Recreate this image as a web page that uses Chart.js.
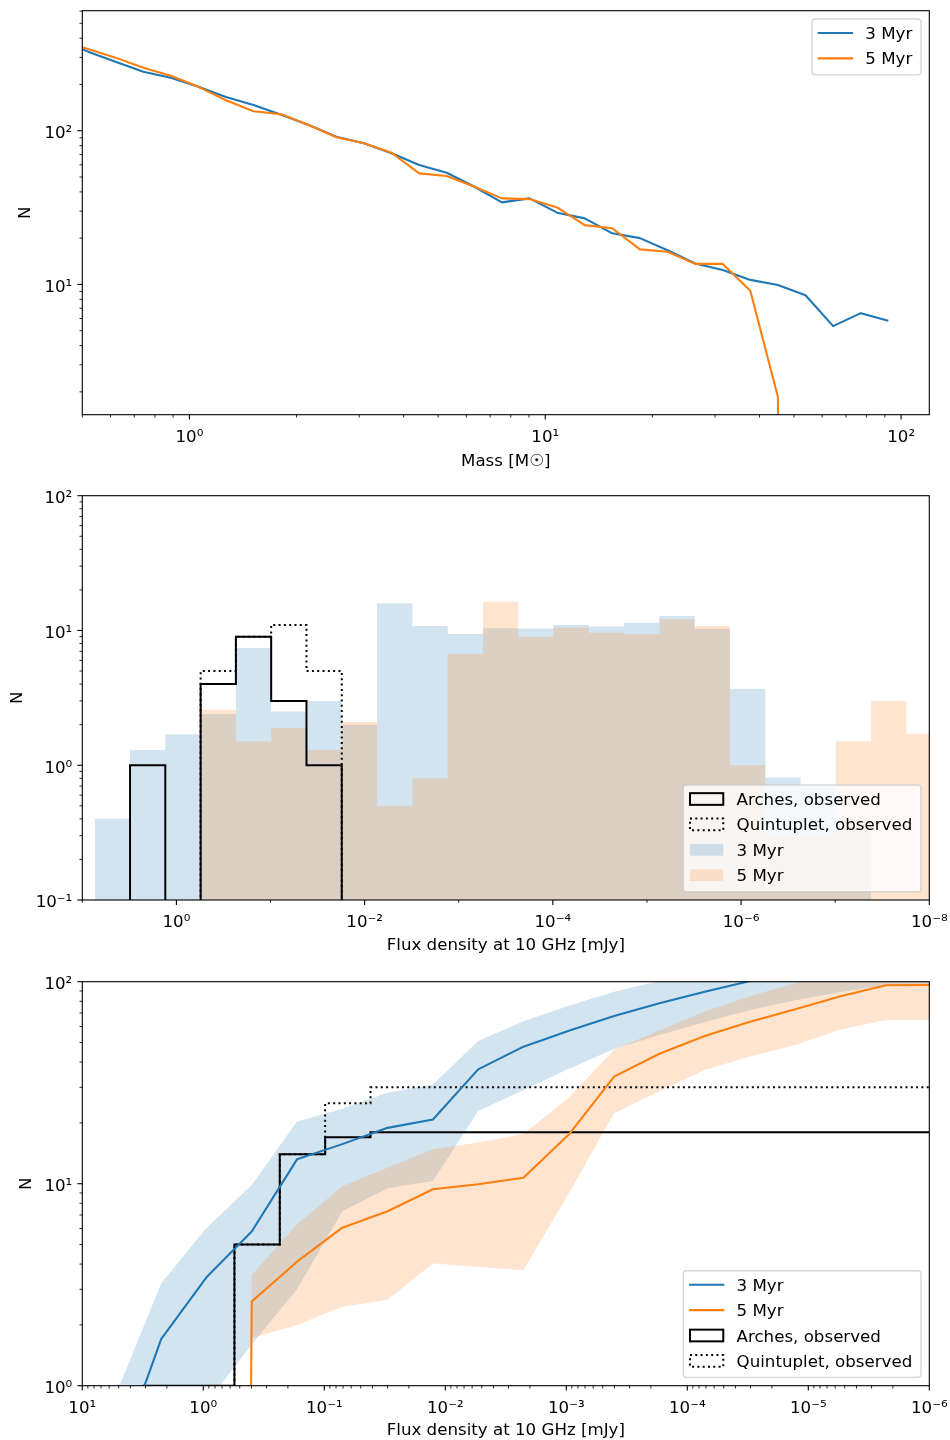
<!DOCTYPE html>
<html>
<head>
<meta charset="utf-8">
<script src="https://cdn.jsdelivr.net/npm/chart.js@4.4.1/dist/chart.umd.min.js"></script>
<style>
  body { margin: 0; background: #fff; }
  #wrap { position: relative; width: 950px; height: 1440px; }
  canvas { position: absolute; left: 0; }
</style>
</head>
<body>
<div id="wrap">
  <canvas id="massChart" width="950" height="480" style="top:0"></canvas>
  <canvas id="histChart" width="950" height="480" style="top:480px"></canvas>
  <canvas id="cumChart" width="950" height="480" style="top:960px"></canvas>
</div>
<script>
// ---- Panel 1: mass function ----
const massBins = [0.434, 0.519, 0.620, 0.742, 0.886, 1.060, 1.267, 1.514, 1.811, 2.165, 2.588, 3.094,
    3.699, 4.422, 5.287, 6.320, 7.555, 9.033, 10.80, 12.91, 15.43, 18.45, 22.06, 26.37, 31.53, 37.69,
    45.06, 53.87, 64.41, 77.00, 92.05];
const mass3Myr = [390, 327, 281, 242, 221, 193, 166, 147, 127, 109, 91.5, 82.8, 71.3, 59.8, 53.3, 43.2,
    34.2, 36.3, 29.3, 26.9, 21.5, 20.0, 16.7, 13.7, 12.4, 10.7, 9.9, 8.5, 5.35, 6.5, 5.8];
const mass5Myr = [385, 340, 299, 257, 228, 193, 158, 134, 128, 109, 90.6, 82.8, 71.9, 52.8, 50.7, 43.2,
    36.3, 35.9, 31.7, 24.3, 23.2, 16.9, 16.3, 13.6, 13.6, 9.1, 1.85, 0, 0, 0, 0];
const massTicks = [1, 10, 100];
const massCountTicks = [10, 100];

// ---- Panel 2: flux histograms (bins run from bright to faint) ----
const fluxBinEdges = [7.38, 3.11, 1.312, 0.553, 0.2333, 0.0984, 0.0415, 0.0175, 7.38e-3, 3.11e-3, 1.312e-3,
    5.53e-4, 2.333e-4, 9.84e-5, 4.15e-5, 1.75e-5, 7.38e-6, 3.11e-6, 1.312e-6, 5.53e-7, 2.333e-7, 9.84e-8,
    4.15e-8, 1.75e-8, 7.38e-9];
const hist3Myr = [0.4, 1.3, 1.7, 2.4, 7.4, 2.5, 3.0, 2.0, 15.9, 10.8, 9.4, 10.4, 10.3, 11.0, 10.7, 11.4,
    12.8, 10.3, 3.7, 0.81, 0.7, 0.4, 0, 0];
const hist5Myr = [0, 0, 0, 2.58, 1.5, 1.89, 1.3, 2.09, 0.5, 0.8, 6.7, 16.3, 9.0, 10.5, 9.6, 9.4,
    12.1, 10.8, 1.0, 0.3, 0.3, 1.5, 3.0, 1.71];
const archesCounts = [0, 1, 0, 4, 9, 3, 1];
const quintupletCounts = [0, 0, 0, 5, 9, 11, 5];
const histFluxTicks = [1, 1e-2, 1e-4, 1e-6, 1e-8];
const histCountTicks = [0.1, 1, 10, 100];

// ---- Panel 3: cumulative counts ----
const cumFlux = [5.29, 2.23, 0.942, 0.398, 0.168, 0.0710, 0.0300, 0.01265, 5.35e-3, 2.26e-3, 9.53e-4,
    4.03e-4, 1.70e-4, 7.18e-5, 3.03e-5, 1.28e-5, 5.41e-6, 2.28e-6, 9.63e-7];
const cum3Myr = [0.4, 1.7, 3.44, 5.8, 13.2, 15.7, 18.9, 20.8, 36.8, 47.7, 57.2, 67.6, 78.2, 89.2, 100.8, 111, 124, 134, 137];
const cum3MyrLow = [0, 0, 0.82, 1.6, 3.0, 7.3, 9.5, 10.3, 22.9, 29.1, 37.1, 46.4, 54.5, 63, 72.4, 81, 89, 96, 96];
const cum3MyrHigh = [0.9, 3.21, 6.03, 9.86, 20.3, 23.5, 28.2, 31.0, 50.8, 63.8, 76, 89.2, 101, 112, 125, 135, 142, 145, 147];
const cum5Myr = [0, 0, 0, 2.61, 4.11, 6.06, 7.3, 9.38, 9.93, 10.7, 17.5, 33.9, 44.0, 53.9, 63.4, 73.0, 84.7, 96.0, 96.3];
const cum5MyrLow = [0, 0, 0, 1.72, 2.0, 2.46, 2.66, 4.03, 3.88, 3.73, 8.96, 22.3, 28.7, 36.5, 42.6, 48.6, 58, 64.6, 64.6];
const cum5MyrHigh = [0, 0, 0, 3.53, 6.3, 9.7, 12.0, 14.8, 16.0, 17.6, 26.7, 46.0, 57.3, 71.3, 84.7, 98.5, 110, 120, 125];
const cumFluxTicks = [10, 1, 0.1, 0.01, 1e-3, 1e-4, 1e-5, 1e-6];
const cumCountTicks = [1, 10, 100];

const BLUE = '#1f77b4', ORANGE = '#ff7f0e';
const BLUE_FILL = 'rgba(31,119,180,0.2)', ORANGE_FILL = 'rgba(255,127,14,0.2)';
const OBS_WIDTH = 2;
const DOTS = [2, 3.3];

Chart.defaults.font.family = '"DejaVu Sans", sans-serif';
Chart.defaults.font.size = 16.67;
Chart.defaults.color = '#000';

// zero counts on a log axis: push them far below like matplotlib does
const LOG_FLOOR = 1e-30;
const logSafe = v => (v > 0 ? v : LOG_FLOOR);

const SUP = {'-': '\u207B', '0': '\u2070', '1': '\u00B9', '2': '\u00B2', '3': '\u00B3', '4': '\u2074',
    '5': '\u2075', '6': '\u2076', '7': '\u2077', '8': '\u2078', '9': '\u2079'};
const pow10Label = v => '10' + String(Math.round(Math.log10(v))).split('').map(c => SUP[c]).join('');
const tickLabel = (v, i, ticks) => (ticks[i].major ? pow10Label(v) : '');

function decadeTicks(min, max, labelled, subs) {
    const ticks = [];
    for (let e = Math.floor(Math.log10(min)); e <= Math.ceil(Math.log10(max)); e++) {
        for (const s of (subs ? [1, 2, 3, 4, 5, 6, 7, 8, 9] : [1])) {
            const v = s * Math.pow(10, e);
            if (v < min * 0.999 || v > max * 1.001) continue;
            ticks.push({value: v, major: s === 1 && labelled.some(l => Math.abs(Math.log10(l) - e) < 1e-9)});
        }
    }
    return ticks;
}

// keep the plot box fixed: drop the extra room Chart.js reserves for edge labels
function pinBox(s) {
    s.paddingTop = 0; s.paddingBottom = 0; s.paddingLeft = 0; s.paddingRight = 0;
}

function xAxis(o) {
    return {
        type: 'logarithmic', min: o.min, max: o.max, reverse: !!o.reverse, offset: false,
        grid: {display: false, drawTicks: false}, border: {display: false},
        afterBuildTicks: s => { s.ticks = decadeTicks(o.min, o.max, o.labelled, o.subs); },
        afterFit: s => { s.height = o.height; pinBox(s); },
        ticks: {autoSkip: false, maxRotation: 0, minRotation: 0, padding: 13, callback: tickLabel},
        title: {display: true, text: o.title, padding: {top: 0, bottom: o.titlePad}}
    };
}

function yAxis(o) {
    return {
        type: 'logarithmic', min: o.min, max: o.max,
        grid: {display: false, drawTicks: false}, border: {display: false},
        afterBuildTicks: s => { s.ticks = decadeTicks(o.min, o.max, o.labelled, true); },
        afterFit: s => { s.width = 82.3; pinBox(s); },
        ticks: {autoSkip: false, padding: 10, labelOffset: 3, callback: tickLabel},
        title: {display: true, text: 'N', padding: {top: o.titlePad, bottom: 0}}
    };
}

// step outline of a histogram (matplotlib histtype='step')
function stepPath(edges, values, endX) {
    const pts = [{x: edges[0], y: LOG_FLOOR}];
    values.forEach((v, i) => pts.push({x: edges[i], y: logSafe(v)}));
    if (endX) pts.push({x: endX, y: logSafe(values[values.length - 1])});
    else pts.push({x: edges[values.length], y: LOG_FLOOR});
    return pts;
}
const runningTotal = counts => counts.map((c, i) => counts.slice(0, i + 1).reduce((a, b) => a + b, 0));

// spines and outward tick marks
const axesFrame = {
    id: 'axesFrame',
    afterDatasetsDraw(chart) {
        const {ctx, chartArea: ca, scales} = chart;
        ctx.save();
        ctx.strokeStyle = '#000';
        scales.x.ticks.forEach(t => {
            const px = scales.x.getPixelForValue(t.value);
            ctx.lineWidth = t.major ? 1.1 : 0.85;
            ctx.beginPath(); ctx.moveTo(px, ca.bottom); ctx.lineTo(px, ca.bottom + (t.major ? 4.9 : 2.8)); ctx.stroke();
        });
        scales.y.ticks.forEach(t => {
            const py = scales.y.getPixelForValue(t.value);
            ctx.lineWidth = t.major ? 1.1 : 0.85;
            ctx.beginPath(); ctx.moveTo(ca.left, py); ctx.lineTo(ca.left - (t.major ? 4.9 : 2.8), py); ctx.stroke();
        });
        ctx.lineWidth = 1.1;
        ctx.strokeRect(ca.left, ca.top, ca.right - ca.left, ca.bottom - ca.top);
        ctx.restore();
    }
};

// matplotlib-like legend box inside the axes
function boxLegend(corner, items) {
    return {
        id: 'boxLegend',
        afterDraw(chart) {
            const {ctx, chartArea: ca} = chart;
            const pad = 6.7, gap = 8.3, rowH = 17.1, handleW = 33.3, textPad = 13.3, margin = 8.3;
            ctx.save();
            ctx.font = '16.67px "DejaVu Sans"';
            const textW = Math.max(...items.map(it => ctx.measureText(it.label).width));
            const w = pad * 2 + handleW + textPad + textW + 2;
            const h = pad * 2 + items.length * rowH + (items.length - 1) * gap;
            const x0 = ca.right - margin - w;
            const y0 = corner === 'top' ? ca.top + margin : ca.bottom - margin - h;
            ctx.beginPath();
            ctx.roundRect(x0, y0, w, h, 3.3);
            ctx.fillStyle = 'rgba(255,255,255,0.8)';
            ctx.fill();
            ctx.strokeStyle = 'rgba(204,204,204,0.8)';
            ctx.lineWidth = 1.4;
            ctx.stroke();
            items.forEach((it, i) => {
                const cy = y0 + pad + 7.3 + i * (rowH + gap);
                const hx = x0 + pad;
                if (it.kind === 'line') {
                    ctx.strokeStyle = it.color; ctx.lineWidth = 2.1; ctx.lineCap = 'square'; ctx.setLineDash([]);
                    ctx.beginPath(); ctx.moveTo(hx, cy); ctx.lineTo(hx + handleW, cy); ctx.stroke();
                } else if (it.kind === 'area') {
                    ctx.fillStyle = it.color;
                    ctx.fillRect(hx, cy - 5.85, handleW, 11.7);
                } else {
                    ctx.strokeStyle = '#000'; ctx.lineWidth = OBS_WIDTH; ctx.lineCap = 'butt';
                    ctx.setLineDash(it.dash || []);
                    ctx.strokeRect(hx, cy - 5.85, handleW, 11.7);
                    ctx.setLineDash([]);
                }
                ctx.fillStyle = '#000';
                ctx.textBaseline = 'alphabetic';
                ctx.fillText(it.label, hx + handleW + textPad, cy + 6);
            });
            ctx.restore();
        }
    };
}

const common = {
    responsive: false, animation: false, events: [],
    plugins: {legend: {display: false}, tooltip: {enabled: false}}
};

// Panel 1
new Chart(document.getElementById('massChart'), {
    type: 'line',
    data: {
        datasets: [
            {label: '5 Myr', data: massBins.map((m, i) => ({x: m, y: logSafe(mass5Myr[i])})),
             borderColor: ORANGE, borderWidth: 2.1, borderJoinStyle: 'round', pointRadius: 0, fill: false, tension: 0, order: 1},
            {label: '3 Myr', data: massBins.map((m, i) => ({x: m, y: logSafe(mass3Myr[i])})),
             borderColor: BLUE, borderWidth: 2.1, borderJoinStyle: 'round', pointRadius: 0, fill: false, tension: 0, order: 2}
        ]
    },
    options: {
        ...common,
        layout: {padding: {top: 10.7, right: 20.7, left: 0, bottom: 0}},
        scales: {
            x: xAxis({min: 0.5, max: 120, labelled: massTicks, subs: true, height: 65.3, title: 'Mass [M\u2609]', titlePad: 8}),
            y: yAxis({min: 1.42, max: 604, labelled: massCountTicks, titlePad: 16})
        }
    },
    plugins: [axesFrame, boxLegend('top', [
        {kind: 'line', color: BLUE, label: '3 Myr'},
        {kind: 'line', color: ORANGE, label: '5 Myr'}
    ])]
});

// Panel 2
const obsEdges = fluxBinEdges.slice(0, archesCounts.length + 1);
const histArea = (label, counts, color, order) => ({
    label, data: stepPath(fluxBinEdges, counts), stepped: 'before', borderWidth: 0, pointRadius: 0,
    fill: 'start', backgroundColor: color, order
});
new Chart(document.getElementById('histChart'), {
    type: 'line',
    data: {
        datasets: [
            {label: 'Quintuplet, observed', data: stepPath(obsEdges, quintupletCounts), stepped: 'before',
             borderColor: '#000', borderWidth: OBS_WIDTH, borderDash: DOTS, pointRadius: 0, fill: false, order: 1},
            {label: 'Arches, observed', data: stepPath(obsEdges, archesCounts), stepped: 'before',
             borderColor: '#000', borderWidth: OBS_WIDTH, pointRadius: 0, fill: false, order: 2},
            histArea('5 Myr', hist5Myr, ORANGE_FILL, 3),
            histArea('3 Myr', hist3Myr, BLUE_FILL, 4)
        ]
    },
    options: {
        ...common,
        layout: {padding: {top: 15.7, right: 20.7, left: 0, bottom: 0}},
        scales: {
            x: xAxis({min: 1e-8, max: 10, reverse: true, labelled: histFluxTicks, subs: false, height: 60,
                      title: 'Flux density at 10 GHz [mJy]', titlePad: 4}),
            y: yAxis({min: 0.1, max: 100, labelled: histCountTicks, titlePad: 7.4})
        }
    },
    plugins: [axesFrame, boxLegend('bottom', [
        {kind: 'outline', label: 'Arches, observed'},
        {kind: 'outline', dash: DOTS, label: 'Quintuplet, observed'},
        {kind: 'area', color: BLUE_FILL, label: '3 Myr'},
        {kind: 'area', color: ORANGE_FILL, label: '5 Myr'}
    ])]
});

// Panel 3
const cumPts = vals => cumFlux.map((f, i) => ({x: f, y: logSafe(vals[i])}));
const band = (vals, extra) => Object.assign({data: cumPts(vals), borderWidth: 0, pointRadius: 0, fill: false}, extra);
new Chart(document.getElementById('cumChart'), {
    type: 'line',
    data: {
        datasets: [
            band(cum3MyrLow, {label: '3 Myr low', order: 9}),
            band(cum3MyrHigh, {label: '3 Myr high', fill: '-1', backgroundColor: BLUE_FILL, order: 8}),
            band(cum5MyrLow, {label: '5 Myr low', order: 7}),
            band(cum5MyrHigh, {label: '5 Myr high', fill: '-1', backgroundColor: ORANGE_FILL, order: 6}),
            {label: 'Arches, observed', data: stepPath(obsEdges, runningTotal(archesCounts), 1e-6), stepped: 'before',
             borderColor: '#000', borderWidth: OBS_WIDTH, pointRadius: 0, fill: false, order: 5},
            {label: 'Quintuplet, observed', data: stepPath(obsEdges, runningTotal(quintupletCounts), 1e-6), stepped: 'before',
             borderColor: '#000', borderWidth: OBS_WIDTH, borderDash: DOTS, pointRadius: 0, fill: false, order: 4},
            {label: '3 Myr', data: cumPts(cum3Myr), borderColor: BLUE, borderWidth: 2.1, borderJoinStyle: 'round',
             pointRadius: 0, fill: false, tension: 0, order: 3},
            {label: '5 Myr', data: cumPts(cum5Myr), borderColor: ORANGE, borderWidth: 2.1, borderJoinStyle: 'round',
             pointRadius: 0, fill: false, tension: 0, order: 2}
        ]
    },
    options: {
        ...common,
        layout: {padding: {top: 21.7, right: 20.7, left: 0, bottom: 0}},
        scales: {
            x: xAxis({min: 1e-6, max: 10, reverse: true, labelled: cumFluxTicks, subs: true, height: 54.3,
                      title: 'Flux density at 10 GHz [mJy]', titlePad: -1}),
            y: yAxis({min: 1, max: 100, labelled: cumCountTicks, titlePad: 16.9})
        }
    },
    plugins: [axesFrame, boxLegend('bottom', [
        {kind: 'line', color: BLUE, label: '3 Myr'},
        {kind: 'line', color: ORANGE, label: '5 Myr'},
        {kind: 'outline', label: 'Arches, observed'},
        {kind: 'outline', dash: DOTS, label: 'Quintuplet, observed'}
    ])]
});
</script>
</body>
</html>
